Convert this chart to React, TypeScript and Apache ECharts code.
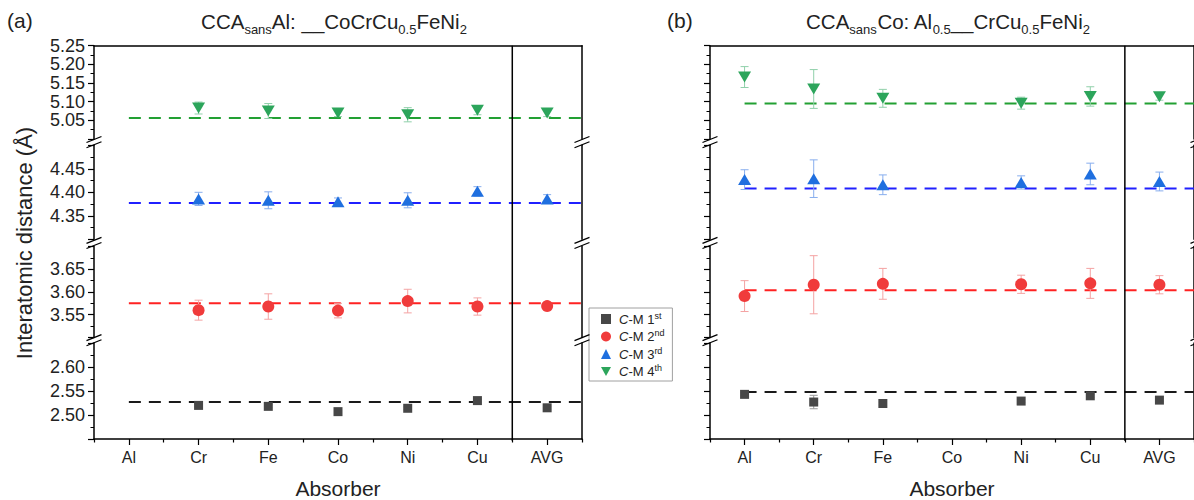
import React, { useEffect, useRef } from 'react';
import * as echarts from 'echarts';

const categories = ['Al', 'Cr', 'Fe', 'Co', 'Ni', 'Cu', 'AVG'];
const seriesNames = ['C-M 1st', 'C-M 2nd', 'C-M 3rd', 'C-M 4th'];

// Panel (a): CCA sans Al
const a1 = [null, 2.520, 2.518, 2.507, 2.514, 2.530, 2.515];
const a1Err = [null, 0.003, 0.003, 0.003, 0.003, 0.003, 0.003];
const a2 = [null, 3.560, 3.568, 3.559, 3.580, 3.568, 3.569];
const a2Err = [null, 0.022, 0.028, 0.016, 0.026, 0.019, 0.009];
const a3 = [null, 4.386, 4.383, 4.380, 4.383, 4.402, 4.386];
const a3Err = [null, 0.014, 0.018, 0.008, 0.016, 0.010, 0.009];
const a4 = [null, 5.083, 5.075, 5.070, 5.065, 5.077, 5.070];
const a4Err = [null, 0.016, 0.020, 0.010, 0.019, 0.012, 0.010];
const aMean = [2.527, 3.575, 4.377, 5.056];

// Panel (b): CCA sans Co
const b1 = [2.543, 2.527, 2.524, null, 2.529, 2.540, 2.531];
const b1Err = [0.003, 0.014, 0.003, null, 0.003, 0.003, 0.003];
const b2 = [3.591, 3.616, 3.618, null, 3.617, 3.619, 3.616];
const b2Err = [0.034, 0.064, 0.034, null, 0.020, 0.033, 0.020];
const b3 = [4.427, 4.429, 4.416, null, 4.421, 4.439, 4.423];
const b3Err = [0.021, 0.040, 0.021, null, 0.014, 0.023, 0.020];
const b4 = [5.166, 5.134, 5.109, null, 5.096, 5.114, 5.113];
const b4Err = [0.028, 0.052, 0.024, null, 0.016, 0.026, 0.009];
const bMean = [2.548, 3.604, 4.408, 5.095];

// broken y-axis segments (bottom to top)
const segMin = [2.45, 3.5, 4.3, 5.0];
const segMax = [2.65, 3.7, 4.5, 5.25];

const FONT = 'Arial, "Liberation Sans", sans-serif';
const TXT = '#222';

// layout
const segTop = [343, 246.6, 145.3, 45.7];
const segBottom = [440.7, 337.4, 239.3, 139];
const panelLeft = [94, 710];
const panelWidth = 488;

const markerColors = ['#474747', '#F03B3B', '#1F6FDF', '#2CA55B'];
const meanColors = ['#1a1a1a', '#FF2222', '#2020FF', '#22A033'];
const errColors = ['#9a9a9a', '#F4A3A3', '#88AEEE', '#90D0AA'];
const symbols = ['rect', 'circle', 'triangle', 'path://M0,0L2,0L1,1.8Z'];
const symbolSizes: any[] = [9, 12, [13, 11], [13, 11]];

const panelVals = [[a1, a2, a3, a4], [b1, b2, b3, b4]];
const panelErrs = [[a1Err, a2Err, a3Err, a4Err], [b1Err, b2Err, b3Err, b4Err]];
const panelMeans = [aMean, bMean];

function baseGraphic(): any[] {
  const g: any[] = [];
  g.push({ type: 'text', x: 7, y: 10, style: { text: '(a)', fontSize: 21, fontFamily: FONT, fill: TXT } });
  g.push({ type: 'text', x: 667, y: 10, style: { text: '(b)', fontSize: 21, fontFamily: FONT, fill: TXT } });
  const rich = {
    m: { fontSize: 20.5, fontFamily: FONT, fill: TXT, color: TXT, lineHeight: 29 },
    s: { fontSize: 13, fontFamily: FONT, fill: TXT, color: TXT, lineHeight: 14, verticalAlign: 'bottom' },
  };
  g.push({
    type: 'text', x: panelLeft[0] + panelWidth / 2 - 4, y: 7,
    style: { text: '{m|CCA}{s|sans}{m|Al: __CoCrCu}{s|0.5}{m|FeNi}{s|2}', rich, align: 'center', verticalAlign: 'top' },
  });
  g.push({
    type: 'text', x: panelLeft[1] + panelWidth / 2 - 6, y: 7,
    style: { text: '{m|CCA}{s|sans}{m|Co: Al}{s|0.5}{m|__CrCu}{s|0.5}{m|FeNi}{s|2}', rich, align: 'center', verticalAlign: 'top' },
  });
  g.push({
    type: 'text', x: 24, y: 243, rotation: Math.PI / 2,
    style: { text: 'Interatomic distance (Å)', fontSize: 22, fontFamily: FONT, fill: TXT, align: 'center', verticalAlign: 'middle' },
  });
  // axis break marks
  for (let p = 0; p < 2; p++) {
    for (const x of [panelLeft[p], panelLeft[p] + panelWidth]) {
      for (let s = 0; s < 3; s++) {
        const yc = (segBottom[s + 1] + segTop[s]) / 2;
        for (const off of [-2.6, 2.6]) {
          g.push({
            type: 'line',
            shape: { x1: x - 7.5, y1: yc + off + 3, x2: x + 7.5, y2: yc + off - 3 },
            style: { stroke: '#000', lineWidth: 1.2 }, z: 60,
          });
        }
      }
    }
  }
  return g;
}

function errRender(color: string) {
  return (params: any, api: any) => {
    const x = api.value(0), y = api.value(1), e = api.value(2);
    const t = api.coord([x, y + e]);
    const b = api.coord([x, y - e]);
    const hw = 4;
    const st = { stroke: color, lineWidth: 1 };
    return {
      type: 'group',
      children: [
        { type: 'line', shape: { x1: t[0], y1: t[1], x2: b[0], y2: b[1] }, style: st },
        { type: 'line', shape: { x1: t[0] - hw, y1: t[1], x2: t[0] + hw, y2: t[1] }, style: st },
        { type: 'line', shape: { x1: b[0] - hw, y1: b[1], x2: b[0] + hw, y2: b[1] }, style: st },
      ],
    };
  };
}

function buildOption(): any {
  const grid: any[] = [];
  const xAxis: any[] = [];
  const yAxis: any[] = [];
  const series: any[] = [];
  const axisLineStyle = { color: '#000', width: 1.5 };

  for (let p = 0; p < 2; p++) {
    for (let s = 0; s < 4; s++) {
      grid.push({ left: panelLeft[p], width: panelWidth, top: segTop[s], height: segBottom[s] - segTop[s] });
    }
  }
  // data x axes (0..7)
  for (let p = 0; p < 2; p++) {
    for (let s = 0; s < 4; s++) {
      const gi = p * 4 + s;
      xAxis.push({
        type: 'value', gridIndex: gi, min: -0.5, max: 6.5,
        show: s === 3, position: s === 3 ? 'top' : 'bottom',
        axisLine: { show: true, onZero: false, lineStyle: axisLineStyle },
        axisTick: { show: false }, axisLabel: { show: false }, splitLine: { show: false },
      });
    }
  }
  // category axes on bottom grids (8..11)
  for (let p = 0; p < 2; p++) {
    xAxis.push({
      type: 'category', gridIndex: p * 4, data: categories, position: 'bottom', boundaryGap: true,
      axisLine: { show: true, onZero: false, lineStyle: axisLineStyle },
      axisTick: { show: true, alignWithLabel: true, interval: 0, length: 6, lineStyle: { color: '#000', width: 1.2 } },
      axisLabel: { interval: 0, fontSize: 16, color: TXT, margin: 10, fontFamily: FONT },
      name: 'Absorber', nameLocation: 'middle', nameGap: 39,
      nameTextStyle: { fontSize: 21, color: TXT, fontFamily: FONT },
      splitLine: { show: false },
    });
    xAxis.push({
      type: 'category', gridIndex: p * 4, data: categories, position: 'bottom', boundaryGap: true,
      axisLine: { show: false, onZero: false },
      axisTick: { show: true, alignWithLabel: false, interval: 0, length: 3.5, lineStyle: { color: '#000', width: 1.2 } },
      axisLabel: { show: false }, splitLine: { show: false },
    });
  }
  // left y axes (0..7)
  for (let p = 0; p < 2; p++) {
    for (let s = 0; s < 4; s++) {
      const gi = p * 4 + s;
      yAxis.push({
        type: 'value', gridIndex: gi, min: segMin[s], max: segMax[s], interval: 0.05, position: 'left',
        axisLine: { show: true, onZero: false, lineStyle: axisLineStyle },
        axisTick: { show: true, length: 6, lineStyle: { color: '#000', width: 1.2 } },
        minorTick: { show: true, splitNumber: 2, length: 3.5, lineStyle: { color: '#000', width: 1 } },
        axisLabel: {
          show: p === 0, fontSize: 18, color: TXT, margin: 9, fontFamily: FONT,
          formatter: (v: number) => v.toFixed(2), showMinLabel: false, showMaxLabel: s === 3,
        },
        splitLine: { show: false }, minorSplitLine: { show: false },
      });
    }
  }
  // right y axes (8..15)
  for (let p = 0; p < 2; p++) {
    for (let s = 0; s < 4; s++) {
      const gi = p * 4 + s;
      yAxis.push({
        type: 'value', gridIndex: gi, min: segMin[s], max: segMax[s], position: 'right',
        axisLine: { show: true, onZero: false, lineStyle: axisLineStyle },
        axisTick: { show: false }, axisLabel: { show: false }, splitLine: { show: false },
      });
    }
  }
  // series
  for (let p = 0; p < 2; p++) {
    for (let s = 0; s < 4; s++) {
      const gi = p * 4 + s;
      const vals = panelVals[p][s];
      const errs = panelErrs[p][s];
      const mean = panelMeans[p][s];
      series.push({
        type: 'line', xAxisIndex: gi, yAxisIndex: gi, data: [[0, mean], [6.5, mean]],
        symbol: 'none', silent: true, z: 1,
        lineStyle: { type: [12, 8], width: 2, color: meanColors[s] },
      });
      series.push({
        type: 'custom', xAxisIndex: gi, yAxisIndex: gi, z: 2, silent: true,
        data: vals.map((v, i) => (v == null ? null : [i, v, errs[i]])).filter((d) => d !== null),
        renderItem: errRender(errColors[s]),
      });
      series.push({
        type: 'scatter', name: seriesNames[s], xAxisIndex: gi, yAxisIndex: gi, z: 3,
        data: vals.map((v, i) => (v == null ? null : [i, v])).filter((d) => d !== null),
        symbol: symbols[s], symbolSize: symbolSizes[s],
        itemStyle: { color: markerColors[s], opacity: 1 },
      });
    }
  }

  return {
    animation: false,
    backgroundColor: '#fff',
    grid, xAxis, yAxis, series,
    legend: {
      data: seriesNames, orient: 'vertical', left: 589, top: 308,
      borderColor: '#a0a0a0', borderWidth: 1, backgroundColor: '#fff',
      padding: [3, 8, 3, 12], itemGap: 3, itemWidth: 10, itemHeight: 10,
      formatter: (name: string) => {
        const n = name.split(' ')[1];
        return `{i|C}{t|-M ${n[0]}}{sup|${n.slice(1)}}`;
      },
      textStyle: {
        fontFamily: FONT, color: TXT,
        rich: {
          i: { fontStyle: 'italic', fontSize: 13, lineHeight: 16, fontFamily: FONT, color: TXT, padding: [0, 0, 0, 3] },
          t: { fontSize: 13, lineHeight: 16, fontFamily: FONT, color: TXT },
          sup: { fontSize: 9, lineHeight: 9, verticalAlign: 'top', fontFamily: FONT, color: TXT },
        },
      },
    },
    graphic: baseGraphic(),
  };
}

export default function App() {
  const ref = useRef<HTMLDivElement>(null);
  useEffect(() => {
    const chart = echarts.init(ref.current!, null, { renderer: 'svg' });
    chart.setOption(buildOption());
    const g = baseGraphic();
    for (let p = 0; p < 2; p++) {
      const x = chart.convertToPixel({ xAxisIndex: p * 4 }, 5.5) as unknown as number;
      g.push({
        type: 'line', shape: { x1: x, y1: segTop[3], x2: x, y2: segBottom[0] },
        style: { stroke: '#000', lineWidth: 1.5 }, z: 50,
      });
    }
    chart.setOption({ graphic: g });
    return () => chart.dispose();
  }, []);
  return <div ref={ref} style={{ position: 'fixed', left: 0, top: 0, width: 1194, height: 500 }} />;
}
